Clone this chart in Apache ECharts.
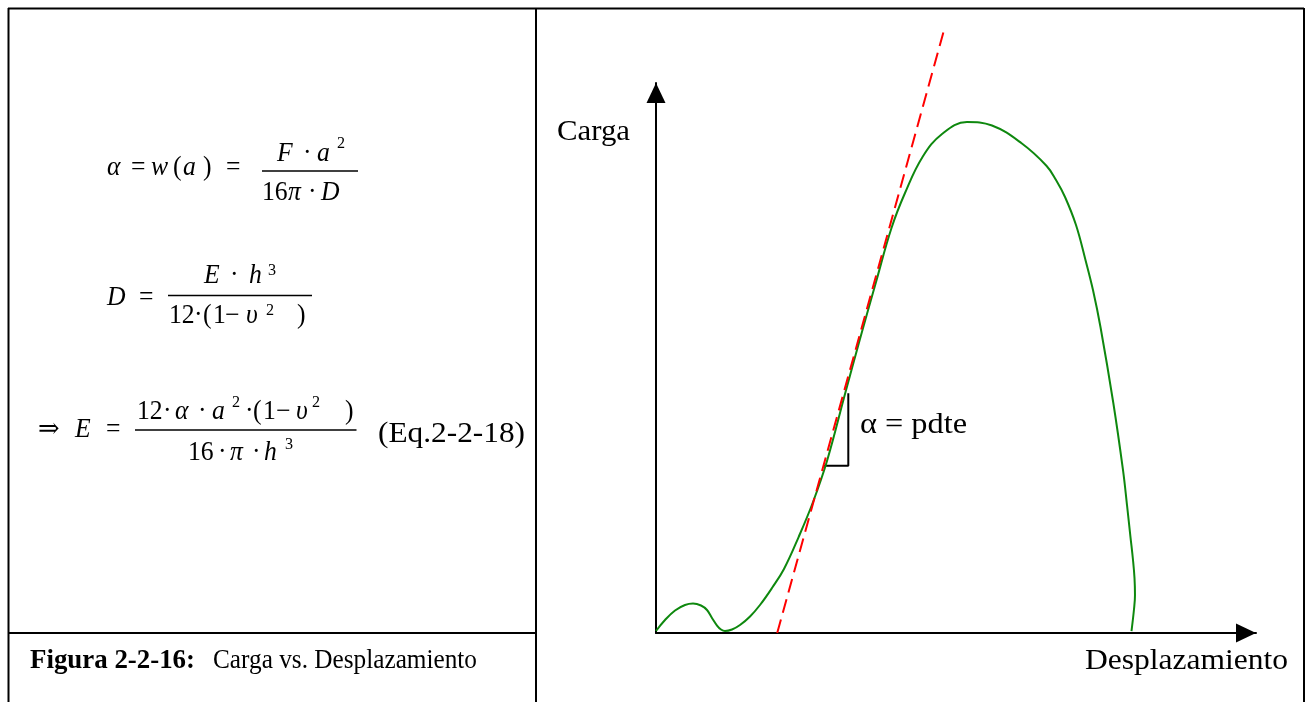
<!DOCTYPE html>
<html><head><meta charset="utf-8">
<script src="https://cdn.jsdelivr.net/npm/echarts@6/dist/echarts.min.js"></script>
<style>html,body{margin:0;padding:0;background:#fff}#c{width:1309px;height:702px}</style>
</head><body><div id="c"></div>
<script>
// ---- data (displacement 0..100, load 0..100) ----
const displacement = [0, 1.5, 3.17, 4.83, 6.17, 7.5, 8.5, 9.33, 10.17, 10.83, 11.5, 12.67, 14.0, 15.67, 17.33, 19.33, 21.33, 23.77, 26.17, 28.5, 31.5, 33.95, 36.67, 39.25, 41.5, 44.42, 47.67, 51.83, 56.0, 60.93, 65.07, 66.67, 68.17, 70.0, 71.58, 72.83, 74.08, 76.22, 77.83, 78.5, 79.08, 79.5, 79.75, 79.83, 79.67, 79.25];
const load =         [0.36, 2.36, 4.09, 5.09, 5.36, 5.0, 4.18, 2.73, 1.36, 0.64, 0.36, 0.64, 1.45, 3.0, 5.09, 8.18, 11.64, 17.45, 23.82, 31.27, 43.45, 53.27, 63.82, 73.64, 80.0, 86.55, 90.73, 92.91, 92.27, 89.04, 84.96, 82.36, 79.27, 74.18, 67.82, 62.36, 55.64, 41.82, 29.64, 23.27, 17.45, 13.27, 10.0, 6.91, 4.36, 0.36];
const tangentDisp = [20.2, 47.9];
const tangentLoad = [0, 109.2];
const slopeMarkDisp = [27.9, 32.05, 32.05];
const slopeMarkLoad = [30.4, 30.4, 43.6];
const axisTitleX = 'Desplazamiento';
const axisTitleY = 'Carga';
const slopeLabel = 'α = pdte';
const captionBold = 'Figura 2-2-16:';
const captionText = 'Carga vs. Desplazamiento';
const eqLabel = '(Eq.2-2-18)';

// ---- layout helpers ----
const SERIF = '"Liberation Serif", "Times New Roman", "DejaVu Serif", serif';
const cv = document.createElement('canvas').getContext('2d');
function measure(t, font) { cv.font = font; return cv.measureText(t).width; }
function fitText(t, font, fs, x0, x1, base) {
  const sx = (x1 - x0) / measure(t, font);
  return { type: 'text', x: x0, y: base - 0.305 * fs, scaleX: sx, silent: true, z: 10,
    style: { text: t, font: font, fill: '#000', align: 'left', verticalAlign: 'middle', textAlign: 'left', textVerticalAlign: 'middle' } };
}
const MFS = 27, SFS = 17, MSX = 0.95;
function mfont(k) {
  if (k === 'i') return 'italic ' + MFS + 'px ' + SERIF;
  if (k === 's') return SFS + 'px ' + SERIF;
  return MFS + 'px ' + SERIF;
}
function mtext(t, k, x, base) {
  const fs = k === 's' ? SFS : MFS;
  return { type: 'text', x: x, y: base - 0.305 * fs, scaleX: MSX, silent: true, z: 10,
    style: { text: t, font: mfont(k), fill: '#000', align: 'left', verticalAlign: 'middle', textAlign: 'left', textVerticalAlign: 'middle' } };
}
function hline(x1, y1, x2, y2, w) {
  return { type: 'line', silent: true, z: 5, shape: { x1: x1, y1: y1, x2: x2, y2: y2 }, style: { stroke: '#000', lineWidth: w } };
}

// formula glyphs: [text, kind, left x, baseline]
const formulaGlyphs = [
  ['α','i',107,176],['=','r',131,176],['w','i',151,176],['(','r',173,176],['a','i',183,176],[')','r',203,176],['=','r',226,176],
  ['F','i',277,162],['·','r',303,162],['a','i',317,162],['2','s',337,149],
  ['16','r',262,201],['π','i',288,201],['·','r',308,201],['D','i',321,201],
  ['D','i',107,306],['=','r',139,306],
  ['E','i',204,284],['·','r',230,284],['h','i',249,284],['3','s',268,276],
  ['12','r',169,324],['·','r',194,324],['(','r',203,324],['1','r',213,324],['−','r',225,324],['υ','i',246,324],['2','s',266,316],[')','r',297,324],
  ['⇒','r',38,438],['E','i',75,438],['=','r',106,438],
  ['12','r',137,420],['·','r',163,420],['α','i',175,420],['·','r',198,420],['a','i',212,420],['2','s',232,408],['·','r',245,420],['(','r',253,420],['1','r',263,420],['−','r',276,420],['υ','i',296,420],['2','s',312,408],[')','r',345,420],
  ['16','r',188,461],['·','r',218,461],['π','i',230,461],['·','r',252,461],['h','i',264,461],['3','s',285,450]
];
const fractionBars = [[262,358,171],[168,312,295.6],[135,356.5,430]];

const graphic = [];
// frame
graphic.push(hline(8, 8.5, 1304, 8.5, 2));
graphic.push(hline(8.5, 8, 8.5, 702, 2));
graphic.push(hline(536, 8, 536, 702, 2));
graphic.push(hline(1304, 8, 1304, 702, 2));
graphic.push(hline(8, 633, 536, 633, 2));
formulaGlyphs.forEach(g => graphic.push(mtext(g[0], g[1], g[2], g[3])));
fractionBars.forEach(b => graphic.push(hline(b[0], b[2], b[1], b[2], 1.5)));
graphic.push(fitText(eqLabel, '30px ' + SERIF, 30, 378, 525, 443));
graphic.push(fitText(captionBold, 'bold 27px ' + SERIF, 27, 30, 195, 669));
graphic.push(fitText(captionText, '27px ' + SERIF, 27, 213, 477, 669));
graphic.push(fitText(axisTitleY, '30px ' + SERIF, 30, 557, 630, 141));
graphic.push(fitText(axisTitleX, '30px ' + SERIF, 30, 1085, 1288, 670));
graphic.push(fitText(slopeLabel, '30px ' + SERIF, 30, 860, 967, 434));

const chart = echarts.init(document.getElementById('c'), null, { renderer: 'canvas' });
const axisCommon = {
  type: 'value', min: 0, max: 100,
  axisLine: { show: true, onZero: false, symbol: ['none', 'triangle'], symbolSize: [19, 20], symbolOffset: [0, -10],
    lineStyle: { color: '#000', width: 2 } },
  axisTick: { show: false }, axisLabel: { show: false }, splitLine: { show: false }
};
chart.setOption({
  animation: false,
  backgroundColor: '#fff',
  grid: { left: 656, top: 83, right: 53, bottom: 69, containLabel: false },
  xAxis: Object.assign({}, axisCommon),
  yAxis: Object.assign({}, axisCommon),
  graphic: graphic,
  series: [
    { type: 'line', name: 'Carga', data: displacement.map((d, i) => [d, load[i]]), smooth: 0.4,
      showSymbol: false, clip: false, lineStyle: { color: '#0e880e', width: 2 }, z: 3 },
    { type: 'line', name: 'Tangente', data: tangentDisp.map((d, i) => [d, tangentLoad[i]]),
      showSymbol: false, clip: false, lineStyle: { color: '#ff0000', width: 2, type: [14, 7] }, z: 4 },
    { type: 'line', name: 'Pendiente', data: slopeMarkDisp.map((d, i) => [d, slopeMarkLoad[i]]),
      showSymbol: false, clip: false, lineStyle: { color: '#000', width: 2 }, z: 2 }
  ]
});
</script></body></html>
